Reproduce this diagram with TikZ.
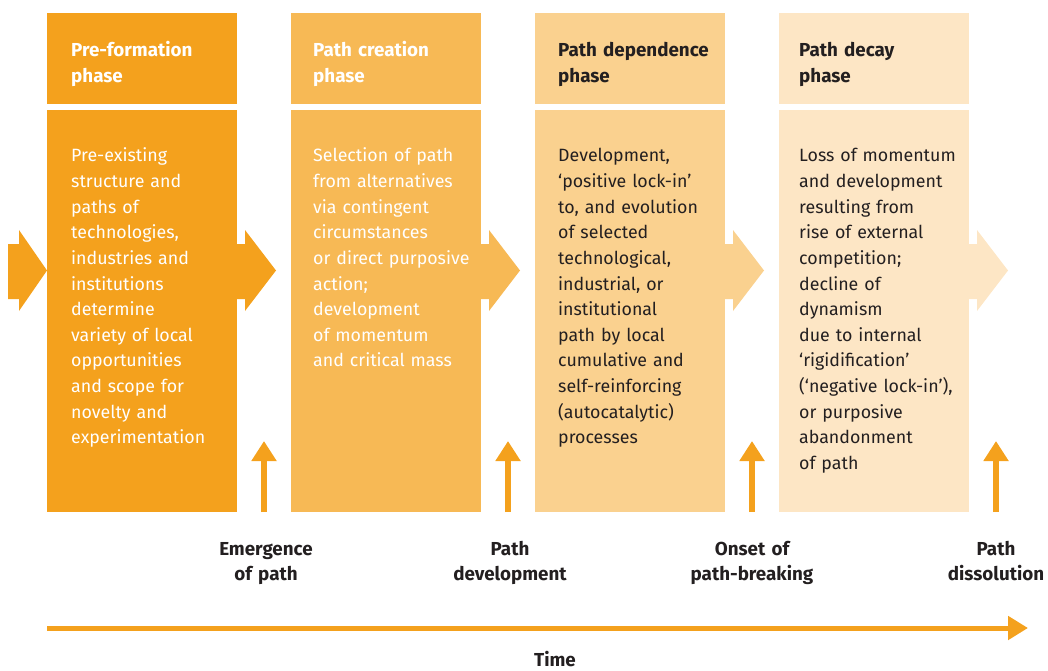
\documentclass[tikz,border=0pt]{standalone}
\usepackage{fontspec}
\setmainfont{Fira Sans}
\usepackage{xcolor}
\usetikzlibrary{arrows.meta}

\definecolor{phaseA}{RGB}{244,161,29}
\definecolor{phaseB}{RGB}{247,185,85}
\definecolor{phaseC}{RGB}{250,209,143}
\definecolor{phaseD}{RGB}{253,230,197}
\definecolor{inkdark}{RGB}{35,31,32}

\tikzset{
  phasebox/.style={anchor=north west, inner sep=0pt, minimum width=190pt},
  headtext/.style={anchor=base west, inner sep=0pt, text width=180pt, align=left,
    font=\bfseries\fontsize{18.8}{26}\selectfont},
  bodytext/.style={anchor=base west, inner sep=0pt, text width=185pt, align=left,
    font=\fontsize{17.8}{25.6}\selectfont},
  eventlabel/.style={anchor=base, inner sep=0pt, text width=140pt, align=center,
    font=\bfseries\fontsize{18.8}{25}\selectfont, text=inkdark},
  uparrow/.style={draw=phaseA, line width=6pt, -{Triangle[length=20pt,width=24pt]}},
}

\begin{document}
\begin{tikzpicture}[x=1pt,y=-1pt]
\useasboundingbox (0,0) rectangle (1048,671);

% block arrows
\fill[phaseA] (8,244) -- (19,244) -- (19,230) -- (47,270.5) -- (19,311) -- (19,299) -- (8,299) -- cycle;
\fill[phaseA] (236,244) -- (245,244) -- (245,230) -- (276,270.5) -- (245,311) -- (245,299) -- (236,299) -- cycle;
\fill[phaseB] (480,244) -- (489,244) -- (489,230) -- (520,270.5) -- (489,311) -- (489,299) -- (480,299) -- cycle;
\fill[phaseC] (724,244) -- (733,244) -- (733,230) -- (764,270.5) -- (733,311) -- (733,299) -- (724,299) -- cycle;
\fill[phaseD] (968,244) -- (977,244) -- (977,230) -- (1008,270.5) -- (977,311) -- (977,299) -- (968,299) -- cycle;

% phase boxes
\node[phasebox, fill=phaseA, minimum height=91pt] (headA) at (47,13) {};
\node[phasebox, fill=phaseA, minimum height=402pt] (bodyA) at (47,110) {};
\node[phasebox, fill=phaseB, minimum height=91pt] (headB) at (291,13) {};
\node[phasebox, fill=phaseB, minimum height=402pt] (bodyB) at (291,110) {};
\node[phasebox, fill=phaseC, minimum height=91pt] (headC) at (535,13) {};
\node[phasebox, fill=phaseC, minimum height=402pt] (bodyC) at (535,110) {};
\node[phasebox, fill=phaseD, minimum height=91pt] (headD) at (779,13) {};
\node[phasebox, fill=phaseD, minimum height=402pt] (bodyD) at (779,110) {};

\node[headtext, text=white] (titleA) at (71,57) {Pre-formation\\phase};
\node[headtext, text=white] (titleB) at (313,57) {Path creation\\phase};
\node[headtext, text=inkdark] (titleC) at (558,57) {Path dependence\\phase};
\node[headtext, text=inkdark] (titleD) at (799,57) {Path decay\\phase};

\node[bodytext, text=white] (textA) at (71,162) {Pre-existing\\structure and\\paths of\\technologies,\\industries and\\institutions\\determine\\variety of local\\opportunities\\and scope for\\novelty and\\experimentation};
\node[bodytext, text=white] (textB) at (313,162) {Selection of path\\from alternatives\\via contingent\\circumstances\\or direct purposive\\action;\\development\\of momentum\\and critical mass};
\node[bodytext, text=inkdark] (textC) at (558,162) {Development,\\‘positive lock-in’\\to, and evolution\\of selected\\technological,\\industrial, or\\institutional\\path by local\\cumulative and\\self-reinforcing\\(autocatalytic)\\processes};
\node[bodytext, text=inkdark] (textD) at (799,162) {Loss of momentum\\and development\\resulting from\\rise of external\\competition;\\decline of\\dynamism\\due to internal\\‘rigidification’\\(‘negative lock-in’),\\or purposive\\abandonment\\of path};

% events
\coordinate (evA) at (264,512);
\coordinate (evAtop) at (264,441);
\coordinate (evB) at (508,512);
\coordinate (evBtop) at (508,441);
\coordinate (evC) at (752,512);
\coordinate (evCtop) at (752,441);
\coordinate (evD) at (996,512);
\coordinate (evDtop) at (996,441);
\draw[uparrow] (evA) -- (evAtop);
\draw[uparrow] (evB) -- (evBtop);
\draw[uparrow] (evC) -- (evCtop);
\draw[uparrow] (evD) -- (evDtop);

\node[eventlabel] (labA) at (266,555) {Emergence\\of path};
\node[eventlabel] (labB) at (510,555) {Path\\development};
\node[eventlabel] (labC) at (752,555) {Onset of\\path-breaking};
\node[eventlabel] (labD) at (996,555) {Path\\dissolution};

% time axis
\coordinate (tstart) at (47,628);
\coordinate (tend) at (1028,628);
\draw[draw=phaseA, line width=5pt, -{Triangle[length=20pt,width=23pt]}] (tstart) -- (tend);
\node[eventlabel] (timelab) at (555,666) {Time};

\end{tikzpicture}
\end{document}
